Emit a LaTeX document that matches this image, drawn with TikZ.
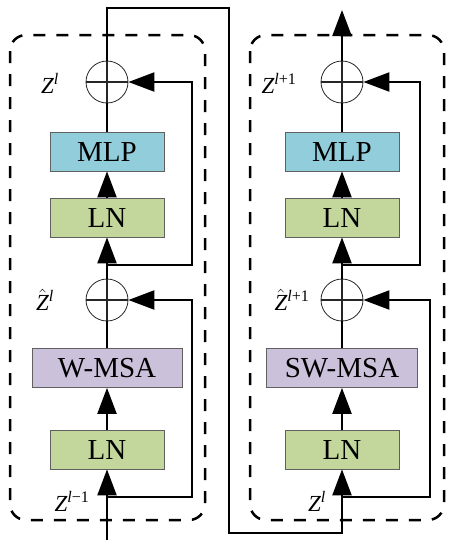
\documentclass[tikz,border=0pt]{standalone}
\usepackage{fontspec}
\setmainfont{Liberation Serif}
\usetikzlibrary{arrows.meta}
\definecolor{mlpc}{HTML}{92CDDC}
\definecolor{lnc}{HTML}{C3D69B}
\definecolor{msac}{HTML}{CCC1DA}
\begin{document}
\begin{tikzpicture}[x=1pt,y=-1pt,
  box/.style={draw=gray!75!black, line width=0.7pt, minimum height=39pt, inner sep=0pt,
    font=\fontsize{29}{30}\selectfont},
  mlpbox/.style={box, fill=mlpc, minimum width=114pt},
  lnbox/.style={box, fill=lnc, minimum width=114pt},
  msabox/.style={box, fill=msac, minimum width=150pt},
  plus/.style={circle, draw=black!85, line width=0.8pt, minimum size=42pt, inner sep=0pt,
    path picture={
      \draw[line width=1.5pt] (path picture bounding box.west) -- (path picture bounding box.east);
      \draw[line width=2pt] (path picture bounding box.north) -- (path picture bounding box.south);}},
  lbl/.style={inner sep=0pt, font=\fontsize{23}{25}\selectfont},
  conn/.style={line width=2.2pt, line join=miter},
  arr/.style={conn, -{Triangle[length=26pt,width=19pt]}},
  dbox/.style={line width=2.5pt, dash pattern=on 12pt off 11pt, rounded corners=16pt}
]
\useasboundingbox (0,0) rectangle (454,550);

% dashed frames
\draw[dbox] (10,35) rectangle (205,520);
\draw[dbox] (250,35) rectangle (444,520);

% left block
\node[plus] (plusA) at (107,82) {};
\node[mlpbox] (mlpA) at (107,151.5) {MLP};
\node[lnbox] (lnA2) at (107,217.5) {LN};
\node[plus] (plusB) at (107,300) {};
\node[msabox] (msaA) at (107,368) {W-MSA};
\node[lnbox] (lnA1) at (107,449.5) {LN};

% right block
\node[plus] (plusC) at (342,82) {};
\node[mlpbox] (mlpB) at (342,151.5) {MLP};
\node[lnbox] (lnB2) at (342,217.5) {LN};
\node[plus] (plusD) at (342,300) {};
\node[msabox, minimum width=151pt] (msaB) at (342,368) {SW-MSA};
\node[lnbox] (lnB1) at (342,449.5) {LN};

% labels
\node[lbl] (lZA) at (50,83) {{\itshape Z}\textsuperscript{\itshape l}};
\node[lbl] (lZhA) at (45,300) {$\hat{\mbox{\itshape Z}}$\textsuperscript{\itshape l}};
\node[lbl] (lZinA) at (72,501) {{\itshape Z}\textsuperscript{\itshape l\upshape −1}};
\node[lbl] (lZB) at (279,83) {{\itshape Z}\textsuperscript{\itshape l\upshape +1}};
\node[lbl] (lZhB) at (292,300) {$\hat{\mbox{\itshape Z}}$\textsuperscript{\itshape l\upshape +1}};
\node[lbl] (lZinB) at (317,501) {{\itshape Z}\textsuperscript{\itshape l}};

% coordinates
\coordinate (inA) at (107,540);
\coordinate (bA1) at (107,497);
\coordinate (cA1) at (192,497);
\coordinate (bA2) at (107,265);
\coordinate (cA2) at (192,265);
\coordinate (tB) at (229,8);
\coordinate (dB) at (229,533);
\coordinate (eB) at (342,533);
\coordinate (bB1) at (342,497);
\coordinate (cB1) at (430,497);
\coordinate (bB2) at (342,265);
\coordinate (cB2) at (420,265);
\coordinate (outB) at (342,10);

% left connectors
\draw[arr] (inA) -- (lnA1.south);
\draw[arr] (lnA1.north) -- (msaA.south);
\draw[conn] (msaA.north) -- (plusB.south);
\draw[arr] (bA1) -- (cA1) |- (plusB.east);
\draw[arr] (plusB.north) -- (lnA2.south);
\draw[arr] (lnA2.north) -- (mlpA.south);
\draw[conn] (mlpA.north) -- (plusA.south);
\draw[arr] (bA2) -- (cA2) |- (plusA.east);

% link between blocks
\draw[arr] (plusA.north) |- (tB) -- (dB) -- (eB) -- (lnB1.south);

% right connectors
\draw[arr] (lnB1.north) -- (msaB.south);
\draw[conn] (msaB.north) -- (plusD.south);
\draw[arr] (bB1) -- (cB1) |- (plusD.east);
\draw[arr] (plusD.north) -- (lnB2.south);
\draw[arr] (lnB2.north) -- (mlpB.south);
\draw[conn] (mlpB.north) -- (plusC.south);
\draw[arr] (bB2) -- (cB2) |- (plusC.east);
\draw[arr] (plusC.north) -- (outB);
\end{tikzpicture}
\end{document}
